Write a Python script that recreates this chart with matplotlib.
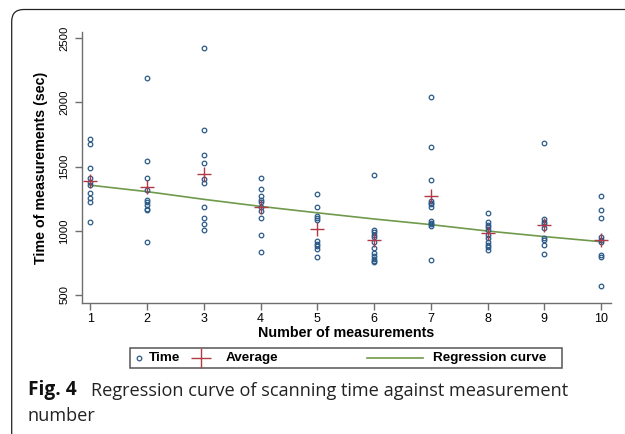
import matplotlib
matplotlib.use("Agg")
import matplotlib.pyplot as plt
from matplotlib.patches import FancyBboxPatch, Rectangle
from matplotlib.lines import Line2D

# ---------------- data ----------------
measurement = [1, 2, 3, 4, 5, 6, 7, 8, 9, 10]
time_1 = [1716, 1677, 1490, 1412, 1379, 1353, 1293, 1254, 1228, 1067]
time_2 = [2191, 1542, 1412, 1319, 1236, 1223, 1202, 1173, 1158, 916]
time_3 = [2427, 1784, 1594, 1529, 1407, 1376, 1184, 1096, 1049, 1007]
time_4 = [1415, 1327, 1274, 1243, 1222, 1186, 1155, 1102, 969, 831]
time_5 = [1288, 1184, 1115, 1100, 1085, 920, 900, 880, 860, 792]
time_6 = [1436, 1005, 987, 968, 950, 909, 865, 826, 805, 784, 768, 753]
time_7 = [2043, 1656, 1392, 1233, 1220, 1210, 1184, 1077, 1064, 1054, 1041, 774]
time_8 = [1142, 1072, 1046, 1028, 1007, 968, 942, 916, 890, 870, 852]
time_9 = [1682, 1090, 1072, 1054, 1020, 942, 929, 890, 820]
time_10 = [1272, 1158, 1096, 955, 929, 909, 813, 794, 566]
times = [time_1, time_2, time_3, time_4, time_5, time_6, time_7, time_8, time_9, time_10]
average = [1390, 1340, 1446, 1184, 1012, 927, 1272, 981, 1046, 927]
regression = [1355, 1305, 1245, 1190, 1140, 1092, 1048, 998, 955, 915]
yticks = [500, 1000, 1500, 2000, 2500]

W, H = 625, 434
fig = plt.figure(figsize=(W / 100, H / 100), dpi=100)
fig.patch.set_facecolor("white")

# decoration layer in pixel coordinates
deco = fig.add_axes([0, 0, 1, 1], zorder=0)
deco.set_xlim(0, W)
deco.set_ylim(H, 0)
deco.axis("off")

# rounded border (clipped at right and bottom)
deco.add_patch(FancyBboxPatch((11.7, 9.5), 700, 440,
                              boxstyle="round,pad=0,rounding_size=12",
                              fc="none", ec="#222222", lw=0.9, clip_on=True))

NAVY = "#2a5a88"
MAROON = "#b23a46"
GREEN = "#6f9a4c"
SPINE = "#6e6e6e"
FONT = ["Liberation Sans", "DejaVu Sans"]

# ---------------- main axes ----------------
ax = fig.add_axes([81.7 / W, (H - 303.3) / H, 529 / W, 271.6 / H], zorder=2)
ax.patch.set_alpha(0)
for xv, vals in zip(measurement, times):
    ax.plot([xv] * len(vals), vals, linestyle="none", marker="o", ms=3.3,
            mfc="none", mec=NAVY, mew=0.9, zorder=3)
ax.plot(measurement, regression, color=GREEN, lw=1.2, zorder=2)
ax.plot(measurement, average, linestyle="none", marker="+", ms=10,
        mew=1.0, color=MAROON, zorder=4)

ax.set_xlim(0.848, 10.171)
ax.set_ylim(435, 2551)
ax.set_xticks(measurement)
ax.set_yticks(yticks)
ax.set_xticklabels([str(m) for m in measurement], fontsize=9, family=FONT)
ax.set_yticklabels([str(v) for v in yticks], fontsize=8.2, family=FONT,
                   rotation=90, va="center")
ax.tick_params(axis="both", length=5, width=1, color=SPINE, direction="out")
ax.tick_params(axis="x", pad=2)
ax.tick_params(axis="y", pad=4)
for s in ("top", "right"):
    ax.spines[s].set_visible(False)
for s in ("left", "bottom"):
    ax.spines[s].set_color(SPINE)
    ax.spines[s].set_linewidth(1)

ax.set_xlabel("Number of measurements", fontsize=10.3, fontweight="bold",
              family=FONT, labelpad=1)
ax.set_ylabel("Time of measurements (sec)", fontsize=10.3, fontweight="bold",
              family=FONT, labelpad=8)

# ---------------- legend (drawn in pixel layer) ----------------
deco.add_patch(Rectangle((130, 348.3), 431.5, 19.4, fc="white", ec="#555555", lw=1.1))
ly = 358.2
deco.add_line(Line2D([139.3], [ly], ls="none", marker="o", ms=3.3, mfc="none",
                     mec=NAVY, mew=0.9))
deco.text(149.3, ly, "Time", fontsize=9.7, fontweight="bold", family=FONT,
          va="center", ha="left")
deco.add_line(Line2D([201], [ly], ls="none", marker="+", ms=15, mew=1.0, color=MAROON))
deco.text(226, ly, "Average", fontsize=9.7, fontweight="bold", family=FONT,
          va="center", ha="left")
deco.add_line(Line2D([367.3, 422.7], [ly, ly], color=GREEN, lw=1.2))
deco.text(433.3, ly, "Regression curve", fontsize=9.7, fontweight="bold", family=FONT,
          va="center", ha="left")

# ---------------- caption ----------------
CAP = ["Open Sans", "DejaVu Sans"]
deco.text(27.5, 395.5, "Fig. 4", fontsize=13.8, fontweight="bold", family=CAP,
          va="baseline", ha="left", color="#111111")
deco.text(90.7, 395.5, "Regression curve of scanning time against measurement",
          fontsize=13.1, family=CAP, va="baseline", ha="left", color="#222222")
deco.text(27.5, 421, "number", fontsize=13.1, family=CAP, va="baseline",
          ha="left", color="#222222")

fig.savefig("out.png", dpi=100, facecolor="white")
